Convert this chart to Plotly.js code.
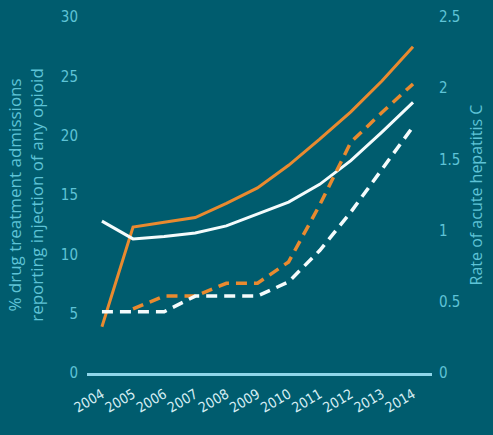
<!DOCTYPE html>
<html>
<head>
<meta charset="utf-8">
<script src="https://cdn.plot.ly/plotly-3.0.1.min.js"></script>
<style>
  html, body { margin: 0; padding: 0; background: #005c6e; }
  #chart { width: 493px; height: 435px; }
</style>
</head>
<body>
<div id="chart"></div>
<script>
// Years on the x axis
const years = [2004, 2005, 2006, 2007, 2008, 2009, 2010, 2011, 2012, 2013, 2014];

// Left axis: % drug treatment admissions reporting injection of any opioid (solid lines)
const admissionsOrange = [3.9, 12.3, 12.7, 13.1, 14.3, 15.6, 17.5, 19.7, 22.0, 24.6, 27.5];
const admissionsWhite  = [12.8, 11.3, 11.5, 11.8, 12.4, 13.4, 14.4, 15.9, 17.9, 20.3, 22.8];

// Right axis: rate of acute hepatitis C (dashed lines)
const hepOrange = [null, 0.45, 0.54, 0.54, 0.63, 0.63, 0.78, 1.18, 1.62, 1.83, 2.03];
const hepWhite  = [0.43, 0.43, 0.43, 0.54, 0.54, 0.54, 0.64, 0.86, 1.13, 1.43, 1.73];

// Tick labels
const leftTicks = [0, 5, 10, 15, 20, 25, 30];
const rightTicks = [0, 0.5, 1, 1.5, 2, 2.5];
const rightTickText = ['0', '0.5', '1', '1.5', '2', '2.5'];

const ORANGE = '#e98a2f';
const WHITE = '#f4fbfc';
const LABEL = '#5ec3d6';
const BG = '#005c6e';

const traces = [
  { x: years, y: hepOrange, yaxis: 'y2', mode: 'lines', connectgaps: false,
    line: { color: ORANGE, width: 3.5, dash: '11px,7px' }, hoverinfo: 'skip' },
  { x: years, y: hepWhite, yaxis: 'y2', mode: 'lines',
    line: { color: WHITE, width: 3.5, dash: '11px,7px' }, hoverinfo: 'skip' },
  { x: years, y: admissionsOrange, yaxis: 'y', mode: 'lines',
    line: { color: ORANGE, width: 3 }, hoverinfo: 'skip' },
  { x: years, y: admissionsWhite, yaxis: 'y', mode: 'lines',
    line: { color: WHITE, width: 3 }, hoverinfo: 'skip' }
];

const tickFont = { family: '"Liberation Sans Narrow", "DejaVu Sans Condensed", sans-serif', size: 15, color: LABEL };

const layout = {
  width: 493, height: 435,
  paper_bgcolor: BG, plot_bgcolor: BG,
  showlegend: false,
  margin: { l: 87, r: 61, t: 17, b: 62 },
  xaxis: {
    range: [2003.52, 2014.61],
    tickvals: years,
    ticktext: years.map(String),
    tickangle: -30,
    showgrid: false, zeroline: false,
    showline: true, linecolor: '#8fd6ea', linewidth: 3,
    ticks: '', ticklabelstandoff: 5,
    tickfont: { family: '"Liberation Sans Narrow", "DejaVu Sans Condensed", sans-serif', size: 14, color: '#d6eef4' }
  },
  yaxis: {
    range: [0, 30],
    tickvals: leftTicks,
    showgrid: false, zeroline: false, showline: false,
    ticks: '', ticklabelstandoff: 8,
    tickfont: tickFont,
    title: { text: '% drug treatment admissions<br>reporting injection of any opioid',
             font: { family: '"Open Sans", sans-serif', size: 17, color: LABEL }, standoff: 12 }
  },
  yaxis2: {
    range: [0, 2.5],
    overlaying: 'y', side: 'right',
    tickvals: rightTicks, ticktext: rightTickText,
    showgrid: false, zeroline: false, showline: false,
    ticks: '', ticklabelstandoff: 6,
    tickfont: tickFont,
    title: { text: 'Rate of acute hepatitis C',
             font: { family: '"Open Sans", sans-serif', size: 16, color: LABEL }, standoff: 11 }
  }
};

Plotly.newPlot('chart', traces, layout, { displayModeBar: false, staticPlot: true });
</script>
</body>
</html>
